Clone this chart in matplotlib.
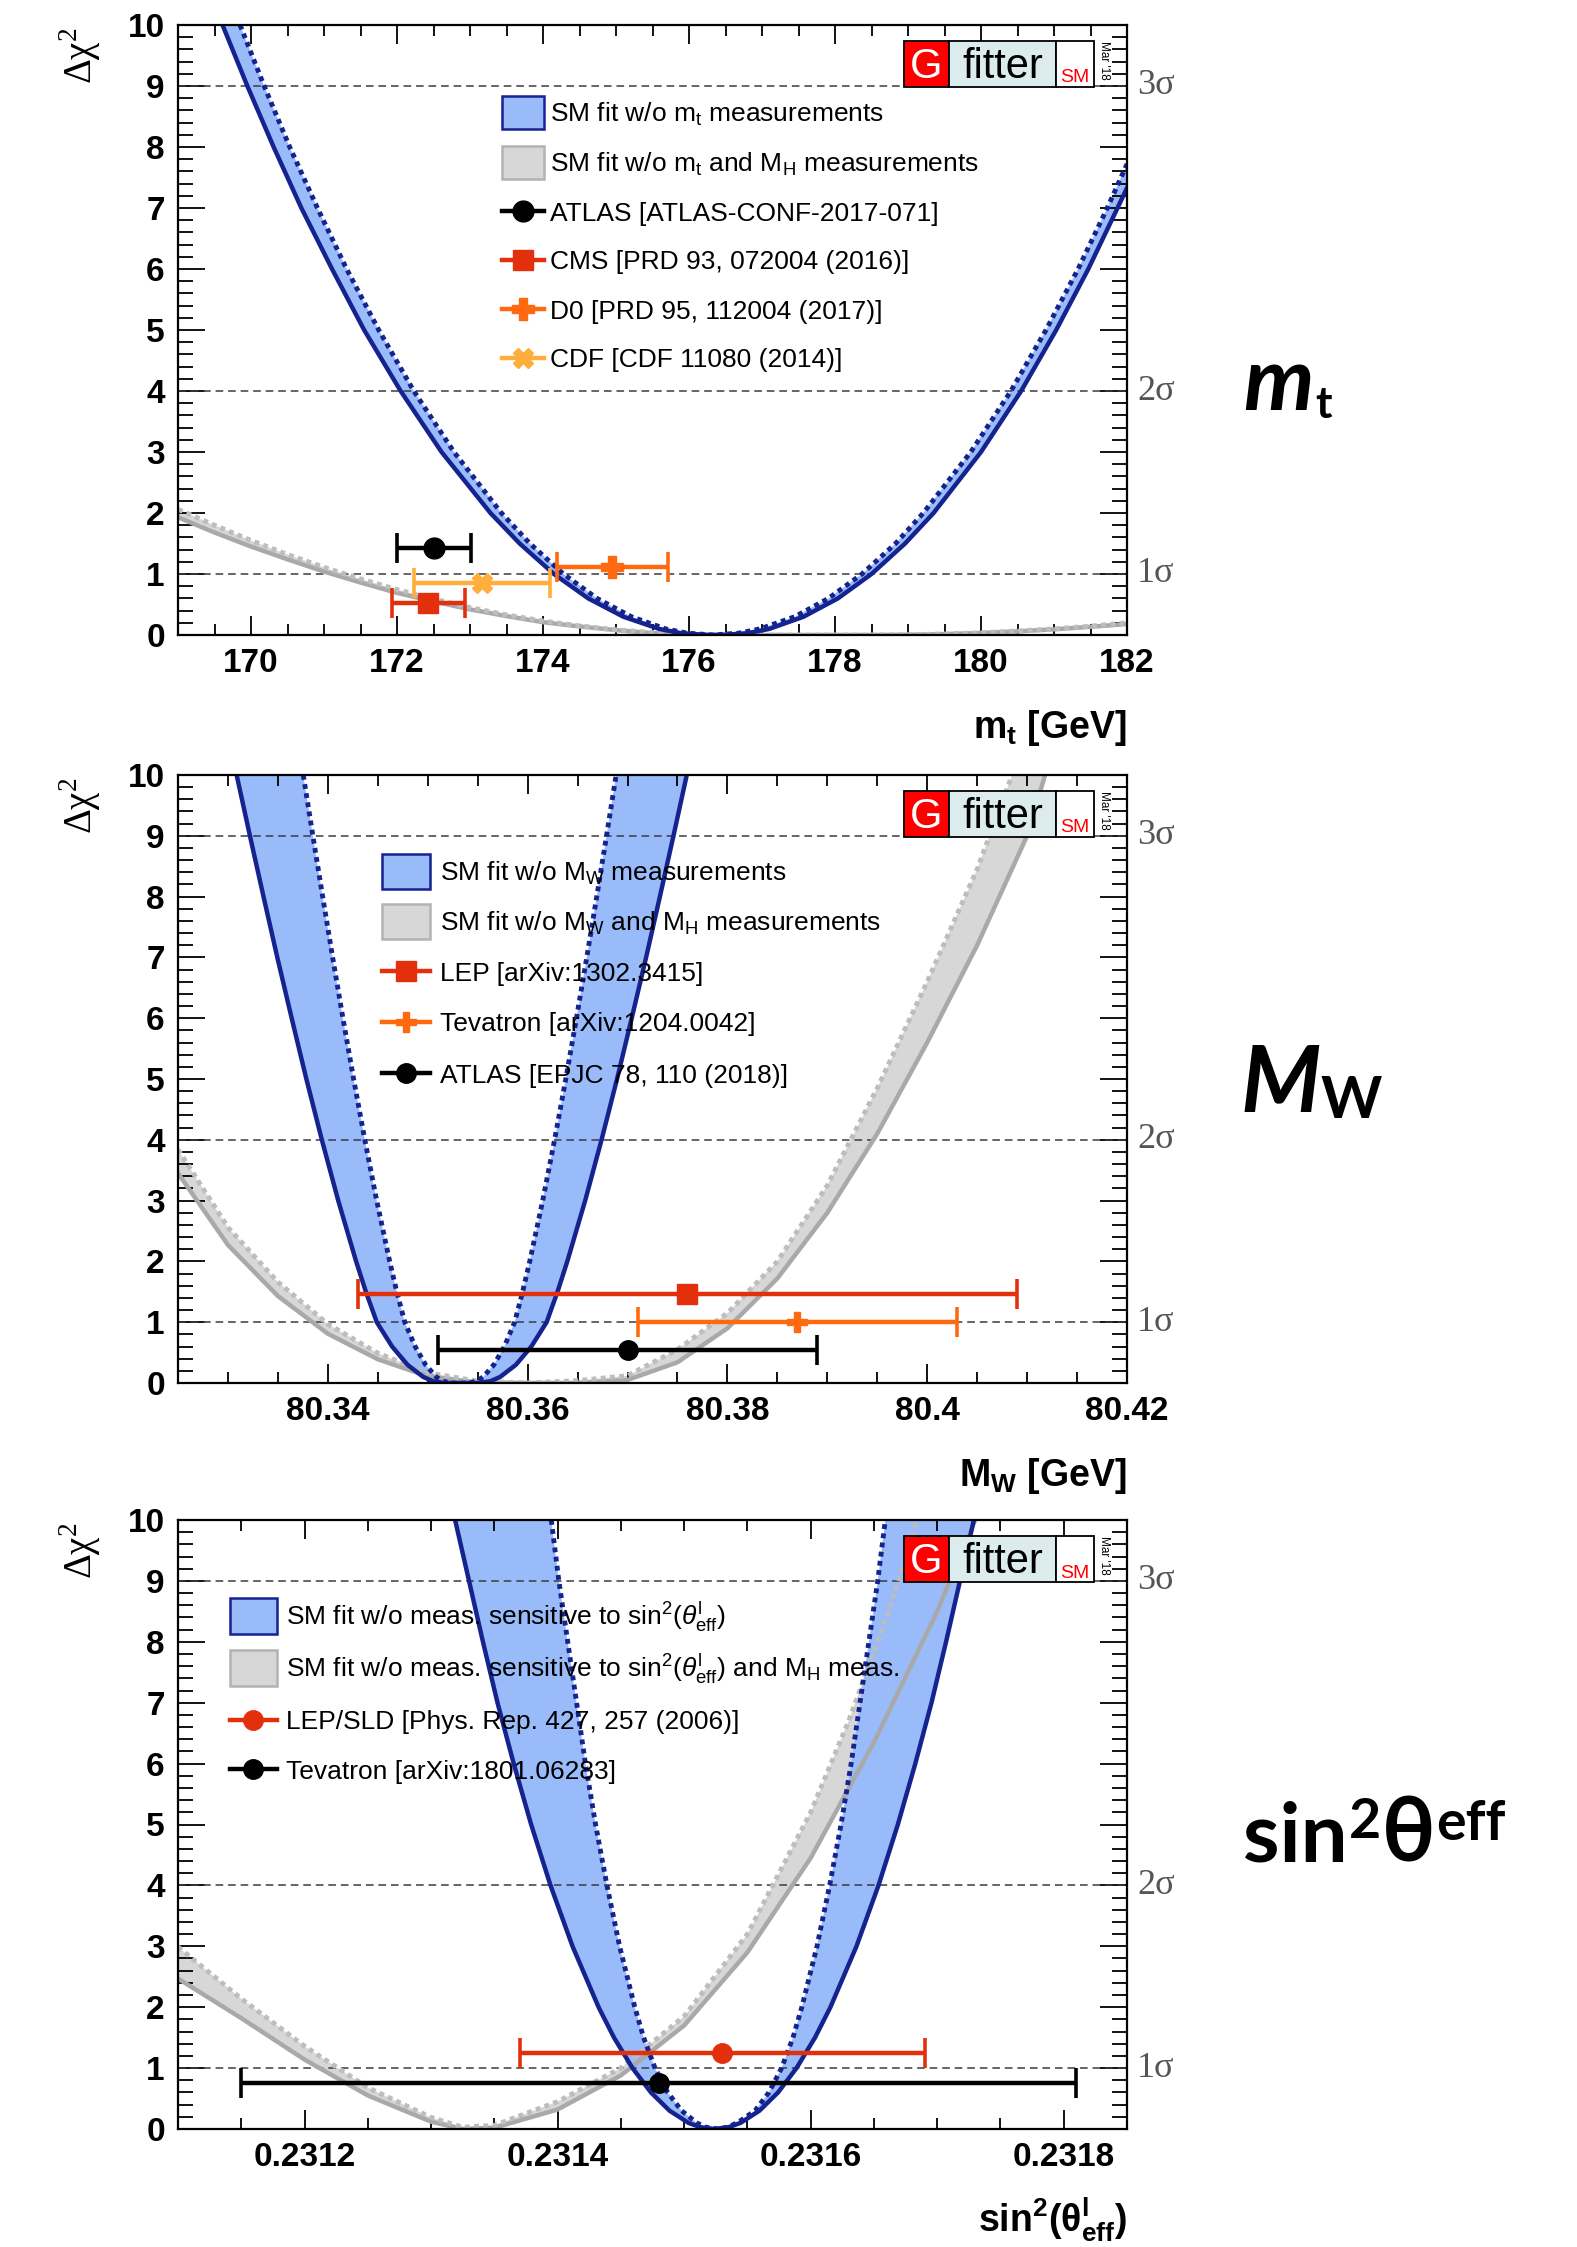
import matplotlib
matplotlib.use("Agg")
import matplotlib.pyplot as plt
from matplotlib.patches import Rectangle, Polygon
from matplotlib.lines import Line2D
from matplotlib.ticker import FixedLocator, MultipleLocator
import numpy as np

plt.rcParams['font.family'] = ['Liberation Sans', 'DejaVu Sans']
plt.rcParams['mathtext.fontset'] = 'custom'
plt.rcParams['mathtext.rm'] = 'Liberation Sans'
plt.rcParams['mathtext.it'] = 'Liberation Sans:italic'
plt.rcParams['mathtext.bf'] = 'Liberation Sans:bold'
plt.rcParams['mathtext.sf'] = 'Liberation Serif'

# ---------------------------------------------------------------- data
Y_TICKS = [0, 1, 2, 3, 4, 5, 6, 7, 8, 9, 10]
Y_TICK_LABELS = ['0', '1', '2', '3', '4', '5', '6', '7', '8', '9', '10']
SIGMA_LEVELS = [1, 4, 9]
SIGMA_LABELS = ['1σ', '2σ', '3σ']

# ---- top quark mass panel
mt_ticks = [170, 172, 174, 176, 178, 180, 182]
mt_tick_labels = ['170', '172', '174', '176', '178', '180', '182']
mt_sm_x = [169.61, 169.95, 170.31, 170.69, 171.11, 171.55, 172.05, 172.61, 173.28, 173.68,
           174.15, 174.62, 175.10, 175.59, 175.89, 176.25,
           176.45, 176.80, 177.10, 177.57, 178.04, 178.50, 178.96, 179.35, 180.00, 180.55,
           181.03, 181.47, 181.87, 182.0]
mt_sm_y = [10, 9, 8, 7, 6, 5, 4, 3, 2, 1.5, 1, 0.6, 0.3, 0.1, 0.03, 0,
           0, 0.03, 0.1, 0.3, 0.6, 1, 1.5, 2, 3, 4, 5, 6, 7, 7.33]
mt_sm_dash_x = [169.85, 170.18, 170.53, 170.91, 171.31, 171.75, 172.23, 172.78, 173.43, 173.82,
                174.28, 174.74, 175.21, 175.68, 175.98, 176.33,
                176.68, 176.97, 177.45, 177.91, 178.37, 178.83, 179.21, 179.86, 180.41, 180.89,
                181.33, 181.73, 182.0]
mt_sm_dash_y = [10, 9, 8, 7, 6, 5, 4, 3, 2, 1.5, 1, 0.6, 0.3, 0.1, 0.03, 0,
                0.03, 0.1, 0.3, 0.6, 1, 1.5, 2, 3, 4, 5, 6, 7, 7.72]
mt_noh_x = [169, 169.5, 170, 170.5, 171, 171.5, 172, 172.5, 173, 173.5, 174, 174.5, 175, 175.5,
            176, 176.5, 177, 177.5, 178, 178.5, 179, 179.5, 180, 180.5, 181, 181.5, 182]
mt_noh_y = [1.93, 1.68, 1.45, 1.24, 1.04, 0.86, 0.69, 0.55, 0.42, 0.31, 0.21, 0.14, 0.08, 0.03,
            0.01, 0.0, 0.0, 0.0, 0.0, 0.0, 0.004, 0.015, 0.033, 0.06, 0.093, 0.134, 0.18]
mt_noh_dash_y = [2.06, 1.80, 1.55, 1.32, 1.11, 0.92, 0.745, 0.59, 0.45, 0.33, 0.23, 0.15, 0.085, 0.04,
                 0.012, 0.0, 0.0, 0.0, 0.0, 0.0, 0.005, 0.017, 0.037, 0.066, 0.10, 0.146, 0.20]
mt_meas_names = ['ATLAS', 'CMS', 'D0', 'CDF']
mt_meas_val = [172.51, 172.43, 174.95, 173.16]
mt_meas_err = [0.51, 0.50, 0.76, 0.93]
mt_meas_y = [1.43, 0.52, 1.11, 0.86]
mt_legend = [r'SM fit w/o m$_{\rm t}$ measurements',
             r'SM fit w/o m$_{\rm t}$ and M$_{\rm H}$ measurements',
             'ATLAS [ATLAS-CONF-2017-071]',
             'CMS [PRD 93, 072004 (2016)]',
             'D0 [PRD 95, 112004 (2017)]',
             'CDF [CDF 11080 (2014)]']

# ---- W mass panel
mw_ticks = [80.34, 80.36, 80.38, 80.40, 80.42]
mw_tick_labels = ['80.34', '80.36', '80.38', '80.4', '80.42']
mw_sm_x = [80.33087, 80.3322, 80.33356, 80.33494, 80.33638, 80.33785, 80.3394, 80.34104,
           80.34283, 80.34381, 80.3449, 80.34643, 80.34797, 80.34955, 80.35052, 80.3517,
           80.3551, 80.35628, 80.35725, 80.35883, 80.36037, 80.3619, 80.36299, 80.36397,
           80.36576, 80.3674, 80.36895, 80.37042, 80.37186, 80.37324, 80.3746, 80.37593]
mw_sm_y = [10, 9, 8, 7, 6, 5, 4, 3, 2, 1.5, 1, 0.6, 0.3, 0.1, 0.03, 0,
           0, 0.03, 0.1, 0.3, 0.6, 1, 1.5, 2, 3, 4, 5, 6, 7, 8, 9, 10]
mw_sm_dash_x = [80.33754, 80.3385, 80.33948, 80.34048, 80.34151, 80.34258, 80.3437, 80.34489,
                80.34619, 80.3469, 80.3477, 80.34874, 80.34978, 80.35085, 80.3515, 80.3523,
                80.3541, 80.3549, 80.35555, 80.35662, 80.35767, 80.3587, 80.3595, 80.36021,
                80.36151, 80.3627, 80.36382, 80.36489, 80.36592, 80.36692, 80.3679, 80.36886]
mw_sm_dash_y = [10, 9, 8, 7, 6, 5, 4, 3, 2, 1.5, 1, 0.6, 0.3, 0.1, 0.03, 0,
                0, 0.03, 0.1, 0.3, 0.6, 1, 1.5, 2, 3, 4, 5, 6, 7, 8, 9, 10]
mw_noh_x = [80.325, 80.33, 80.335, 80.34, 80.345, 80.35, 80.355, 80.36, 80.365, 80.37, 80.375,
            80.38, 80.385, 80.39, 80.395, 80.40, 80.405, 80.41, 80.4118]
mw_noh_y = [3.45, 2.27, 1.43, 0.81, 0.39, 0.11, 0.01, 0.0, 0.0, 0.05, 0.34,
            0.90, 1.72, 2.80, 4.1, 5.6, 7.2, 9.0, 10.0]
mw_noh_dash_x = [80.325, 80.33, 80.335, 80.34, 80.345, 80.35, 80.355, 80.36, 80.365, 80.37,
                 80.375, 80.38, 80.385, 80.39, 80.395, 80.40, 80.405, 80.4085]
mw_noh_dash_y = [3.84, 2.56, 1.66, 0.97, 0.49, 0.17, 0.03, 0.0, 0.04, 0.12,
                 0.55, 1.15, 2.0, 3.25, 4.85, 6.6, 8.45, 10.0]
mw_meas_names = ['LEP', 'Tevatron', 'ATLAS']
mw_meas_val = [80.376, 80.387, 80.370]
mw_meas_err = [0.033, 0.016, 0.019]
mw_meas_y = [1.46, 1.0, 0.55]
mw_legend = [r'SM fit w/o M$_{\rm W}$ measurements',
             r'SM fit w/o M$_{\rm W}$ and M$_{\rm H}$ measurements',
             'LEP [arXiv:1302.3415]',
             'Tevatron [arXiv:1204.0042]',
             'ATLAS [EPJC 78, 110 (2018)]']

# ---- sin^2 theta_eff panel
sw_ticks = [0.2312, 0.2314, 0.2316, 0.2318]
sw_tick_labels = ['0.2312', '0.2314', '0.2316', '0.2318']
sw_sm_x = [0.231319, 0.231330, 0.231341, 0.2313525, 0.2313653, 0.2313791, 0.2313944, 0.2314118,
           0.2314324, 0.2314446, 0.2314592, 0.2314738, 0.2314885, 0.2315035, 0.2315128, 0.231524,
           0.2315352, 0.2315445, 0.2315595, 0.2315742, 0.2315888, 0.2316034, 0.2316156,
           0.2316362, 0.2316536, 0.2316689, 0.2316827, 0.2316955, 0.231707, 0.231718, 0.231729]
sw_sm_y = [10, 9, 8, 7, 6, 5, 4, 3, 2, 1.5, 1, 0.6, 0.3, 0.1, 0.03, 0,
           0.03, 0.1, 0.3, 0.6, 1, 1.5, 2, 3, 4, 5, 6, 7, 8, 9, 10]
sw_sm_dash_x = [0.231395, 0.231401, 0.231408, 0.231415, 0.231422, 0.231430, 0.231439, 0.231449,
                0.231461, 0.231468, 0.231477, 0.231487, 0.231498, 0.231510, 0.231517, 0.231527,
                0.231534, 0.231542, 0.231556, 0.231567, 0.231577, 0.231586, 0.231593, 0.231605,
                0.231615, 0.231624, 0.231632, 0.231639, 0.231646, 0.231653, 0.231659]
sw_sm_dash_y = [10, 9, 8, 7, 6, 5, 4, 3, 2, 1.5, 1, 0.6, 0.3, 0.1, 0.03, 0,
                0.03, 0.1, 0.3, 0.6, 1, 1.5, 2, 3, 4, 5, 6, 7, 8, 9, 10]
sw_noh_x = [0.2311, 0.23115, 0.2312, 0.23125, 0.2313, 0.231325, 0.23135, 0.2314, 0.23145,
            0.2315, 0.23155, 0.2316, 0.23165, 0.2317, 0.23173]
sw_noh_y = [2.47, 1.82, 1.14, 0.55, 0.12, 0.0, 0.02, 0.32, 0.88, 1.70, 2.90, 4.45, 6.35, 8.5, 10.0]
sw_noh_dash_x = [0.2311, 0.23115, 0.2312, 0.23125, 0.2313, 0.231325, 0.23135, 0.2314, 0.23145,
                 0.2315, 0.23155, 0.2316, 0.23163, 0.23166, 0.231684]
sw_noh_dash_y = [2.99, 2.14, 1.36, 0.68, 0.19, 0.03, 0.06, 0.45, 1.0, 1.85, 3.2, 5.2, 6.7, 8.4, 10.0]
sw_meas_names = ['LEP/SLD', 'Tevatron']
sw_meas_val = [0.23153, 0.23148]
sw_meas_err = [0.00016, 0.00033]
sw_meas_y = [1.24, 0.76]
sw_legend = [r'SM fit w/o meas. sensitive to sin$^{2}$($\theta^{\rm l}_{\rm eff}$)',
             r'SM fit w/o meas. sensitive to sin$^{2}$($\theta^{\rm l}_{\rm eff}$) and M$_{\rm H}$ meas.',
             'LEP/SLD [Phys. Rep. 427, 257 (2006)]',
             'Tevatron [arXiv:1801.06283]']

# ---------------------------------------------------------------- style
BLUE_FILL = '#99bbfa'
NAVY = '#15238f'
GRAY_FILL = '#d7d7d7'
GRAY_LINE = '#a9a9a9'
GRAY_DASH = '#bdbdbd'
RED = '#e3300c'
ORANGE = '#ff6a10'
LIGHT_ORANGE = '#ffad3b'
BLACK = '#000000'

W, H = 1577, 2247
X0, X1 = 178, 1127
PANELS = [(25, 635), (775, 1383), (1520, 2129)]

fig = plt.figure(figsize=(W / 100, H / 100), dpi=100)


def fx(x):
    return x / W


def fy(y):
    return 1.0 - y / H


def band(ax, sx, sy, dx, dy, fill, z):
    xs = list(sx) + list(dx)[::-1]
    ys = list(sy) + list(dy)[::-1]
    ax.add_patch(Polygon(np.column_stack([xs, ys]), closed=True, facecolor=fill,
                         edgecolor='none', zorder=z))


def curve_pair(ax, sx, sy, dx, dy, col_s, col_d, z):
    ax.plot(sx, sy, color=col_s, lw=3.2, zorder=z, solid_joinstyle='round')
    ax.plot(dx, dy, color=col_d, lw=3.5, ls=(0, (1.0, 0.9)), zorder=z + 0.1)


def setup(ax, xlim, xmaj, xlabels, xminor, xlabel, top, bottom):
    ax.set_xlim(*xlim)
    ax.set_ylim(0, 10)
    ax.xaxis.set_major_locator(FixedLocator(xmaj))
    ax.xaxis.set_minor_locator(MultipleLocator(xminor))
    ax.set_xticklabels(xlabels, fontsize=24, fontweight='bold')
    ax.yaxis.set_major_locator(FixedLocator(Y_TICKS))
    ax.yaxis.set_minor_locator(MultipleLocator(0.2))
    ax.set_yticklabels(Y_TICK_LABELS, fontsize=24, fontweight='bold')
    ax.tick_params(which='both', direction='in', top=True, right=True, width=1.3)
    ax.tick_params(axis='y', which='major', length=19.5, pad=9.5)
    ax.tick_params(axis='y', which='minor', length=10.5)
    ax.tick_params(axis='x', which='major', length=13.5, pad=9.5)
    ax.tick_params(axis='x', which='minor', length=8)
    for sp in ax.spines.values():
        sp.set_linewidth(1.6)
        sp.set_zorder(8)
    for v, lab in zip(SIGMA_LEVELS, SIGMA_LABELS):
        ax.axhline(v, color='#3c3c3c', lw=1.1, ls=(0, (5, 3.2)), zorder=2)
        ax.text(1.0105, v / 10.0, lab, transform=ax.transAxes, ha='left', va='center',
                fontsize=26, family=['Liberation Serif', 'DejaVu Serif'], color='#555555')
    hpx = bottom - top
    ax.text(1.0, -103.0 / hpx, xlabel, transform=ax.transAxes, ha='right', va='baseline',
            fontsize=27, fontweight='bold')
    fig.text(fx(80), fy(top + 2), r'$\mathsf{Δχ}^{\mathsf{2}}$', rotation=90, ha='center',
             va='top', fontsize=28)


def meas(ax, x, err, y, color, marker, ms):
    ax.errorbar([x], [y], xerr=[[err], [err]], fmt=marker, color=color, ms=ms, mec=color,
                mfc=color, elinewidth=3.2, capsize=11, capthick=2.6, zorder=6)


def leg_band(x0, x1, yc, hgt, fill, edge, label, tx):
    fig.add_artist(Rectangle((fx(x0), fy(yc + hgt / 2)), (x1 - x0) / W, hgt / H,
                             transform=fig.transFigure, facecolor=fill, edgecolor=edge, lw=1.8))
    fig.text(fx(tx), fy(yc + 9.5), label, fontsize=19, ha='left', va='baseline')


def leg_marker(x0, x1, yc, color, marker, ms, label, tx):
    fig.add_artist(Line2D([fx(x0), fx(x1)], [fy(yc), fy(yc)], transform=fig.transFigure,
                          color=color, lw=3.2))
    fig.add_artist(Line2D([fx((x0 + x1) / 2)], [fy(yc)], transform=fig.transFigure, color=color,
                          marker=marker, ms=ms, mec=color, mfc=color, ls='none'))
    fig.text(fx(tx), fy(yc + 9.5), label, fontsize=19, ha='left', va='baseline')


def logo(top):
    ya, yb = top + 15.7, top + 61.7
    segs = [(904, 949.3, '#ff0000'), (949.3, 1055.7, '#dcebeb'), (1055.7, 1094, '#ffffff')]
    for a, b, c in segs:
        fig.add_artist(Rectangle((fx(a), fy(yb)), (b - a) / W, (yb - ya) / H,
                                 transform=fig.transFigure, facecolor=c, edgecolor='black',
                                 lw=1.3, zorder=10))
    fig.text(fx(926.6), fy(top + 53), 'G', color='white', fontsize=30, ha='center',
             va='baseline', zorder=11)
    fig.text(fx(1002.5), fy(top + 53), 'fitter', color='black', fontsize=30, ha='center',
             va='baseline', zorder=11)
    fig.text(fx(1075), fy(top + 57.5), 'SM', color='#ff0000', fontsize=14, ha='center',
             va='baseline', zorder=11)
    fig.text(fx(1104), fy(top + 16), "Mar '18", rotation=270, fontsize=8.5, ha='center',
             va='top', zorder=11)


axes = []
for top, bottom in PANELS:
    axes.append(fig.add_axes([fx(X0), fy(bottom), (X1 - X0) / W, (bottom - top) / H]))

# ---------------- panel 1: m_t
ax = axes[0]
band(ax, mt_noh_x, mt_noh_y, mt_noh_x, mt_noh_dash_y, GRAY_FILL, 1)
band(ax, mt_sm_x, mt_sm_y, mt_sm_dash_x, mt_sm_dash_y, BLUE_FILL, 1.5)
curve_pair(ax, mt_noh_x, mt_noh_y, mt_noh_x, mt_noh_dash_y, GRAY_LINE, GRAY_DASH, 3)
curve_pair(ax, mt_sm_x, mt_sm_y, mt_sm_dash_x, mt_sm_dash_y, NAVY, NAVY, 3.5)
mt_styles = [(BLACK, 'o', 15), (RED, 's', 14), (ORANGE, 'P', 16), (LIGHT_ORANGE, 'X', 15)]
for v, e, y, (c, m, s) in zip(mt_meas_val, mt_meas_err, mt_meas_y, mt_styles):
    meas(ax, v, e, y, c, m, s)
setup(ax, (169, 182), mt_ticks, mt_tick_labels, 0.5, r'm$_{\mathbf{t}}$ [GeV]', *PANELS[0])
top = PANELS[0][0]
rows = [87, 137, 186, 235, 284, 333]
leg_band(502, 544, top + rows[0], 33, BLUE_FILL, NAVY, mt_legend[0], 550)
leg_band(502, 544, top + rows[1], 33, GRAY_FILL, '#b3b3b3', mt_legend[1], 550)
for r, lab, (c, m, s) in zip(rows[2:], mt_legend[2:], mt_styles):
    leg_marker(502, 544, top + r, c, m, s, lab, 550)
logo(top)

# ---------------- panel 2: M_W
ax = axes[1]
band(ax, mw_noh_x, mw_noh_y, mw_noh_dash_x, mw_noh_dash_y, GRAY_FILL, 1)
band(ax, mw_sm_x, mw_sm_y, mw_sm_dash_x, mw_sm_dash_y, BLUE_FILL, 1.5)
curve_pair(ax, mw_noh_x, mw_noh_y, mw_noh_dash_x, mw_noh_dash_y, GRAY_LINE, GRAY_DASH, 3)
curve_pair(ax, mw_sm_x, mw_sm_y, mw_sm_dash_x, mw_sm_dash_y, NAVY, NAVY, 3.5)
mw_styles = [(RED, 's', 14), (ORANGE, 'P', 15), (BLACK, 'o', 14)]
for v, e, y, (c, m, s) in zip(mw_meas_val, mw_meas_err, mw_meas_y, mw_styles):
    meas(ax, v, e, y, c, m, s)
setup(ax, (80.325, 80.42), mw_ticks, mw_tick_labels, 0.005, r'M$_{\mathbf{W}}$ [GeV]', *PANELS[1])
top = PANELS[1][0]
rows = [96, 146, 196, 247, 298]
leg_band(382, 430, top + rows[0], 35, BLUE_FILL, NAVY, mw_legend[0], 440)
leg_band(382, 430, top + rows[1], 35, GRAY_FILL, '#b3b3b3', mw_legend[1], 440)
for r, lab, (c, m, s) in zip(rows[2:], mw_legend[2:], mw_styles):
    leg_marker(382, 430, top + r, c, m, s, lab, 440)
logo(top)

# ---------------- panel 3: sin^2 theta_eff
ax = axes[2]
band(ax, sw_noh_x, sw_noh_y, sw_noh_dash_x, sw_noh_dash_y, GRAY_FILL, 1)
band(ax, sw_sm_x, sw_sm_y, sw_sm_dash_x, sw_sm_dash_y, BLUE_FILL, 1.5)
curve_pair(ax, sw_noh_x, sw_noh_y, sw_noh_dash_x, sw_noh_dash_y, GRAY_LINE, GRAY_DASH, 3)
curve_pair(ax, sw_sm_x, sw_sm_y, sw_sm_dash_x, sw_sm_dash_y, NAVY, NAVY, 3.5)
sw_styles = [(RED, 'o', 14), (BLACK, 'o', 14)]
for v, e, y, (c, m, s) in zip(sw_meas_val, sw_meas_err, sw_meas_y, sw_styles):
    meas(ax, v, e, y, c, m, s)
setup(ax, (0.2311, 0.23185), sw_ticks, sw_tick_labels, 0.00005,
      r'sin$^{\mathbf{2}}$($\mathbf{θ^{l}_{eff}}$)', *PANELS[2])
top = PANELS[2][0]
rows = [96, 148, 200, 249]
leg_band(230, 277, top + rows[0], 36, BLUE_FILL, NAVY, sw_legend[0], 286)
leg_band(230, 277, top + rows[1], 36, GRAY_FILL, '#b3b3b3', sw_legend[1], 286)
for r, lab, (c, m, s) in zip(rows[2:], sw_legend[2:], sw_styles):
    leg_marker(230, 277, top + r, c, m, s, lab, 286)
logo(top)

# ---------------- big labels on the right
renderer = fig.canvas.get_renderer()


def chain(x0, pieces):
    x = x0
    for txt, y, size, style, gap in pieces:
        t = fig.text(fx(x), fy(y), txt, fontsize=size, fontweight='bold', fontstyle=style,
                     family=['Lato', 'DejaVu Sans'], ha='left', va='baseline')
        bb = t.get_window_extent(renderer)
        x = bb.x1 + gap


chain(1243, [('m', 410, 64, 'italic', 2), ('t', 418, 32, 'normal', 0)])
chain(1240, [('M', 1112, 66, 'italic', 0), ('W', 1118, 42, 'normal', 0)])
chain(1243, [('sin', 1862, 60, 'normal', 1), ('2', 1838, 40, 'normal', 1),
             ('θ', 1862, 64, 'normal', 1), ('eff', 1840, 40, 'normal', 0)])

fig.savefig('out.png', dpi=100)
